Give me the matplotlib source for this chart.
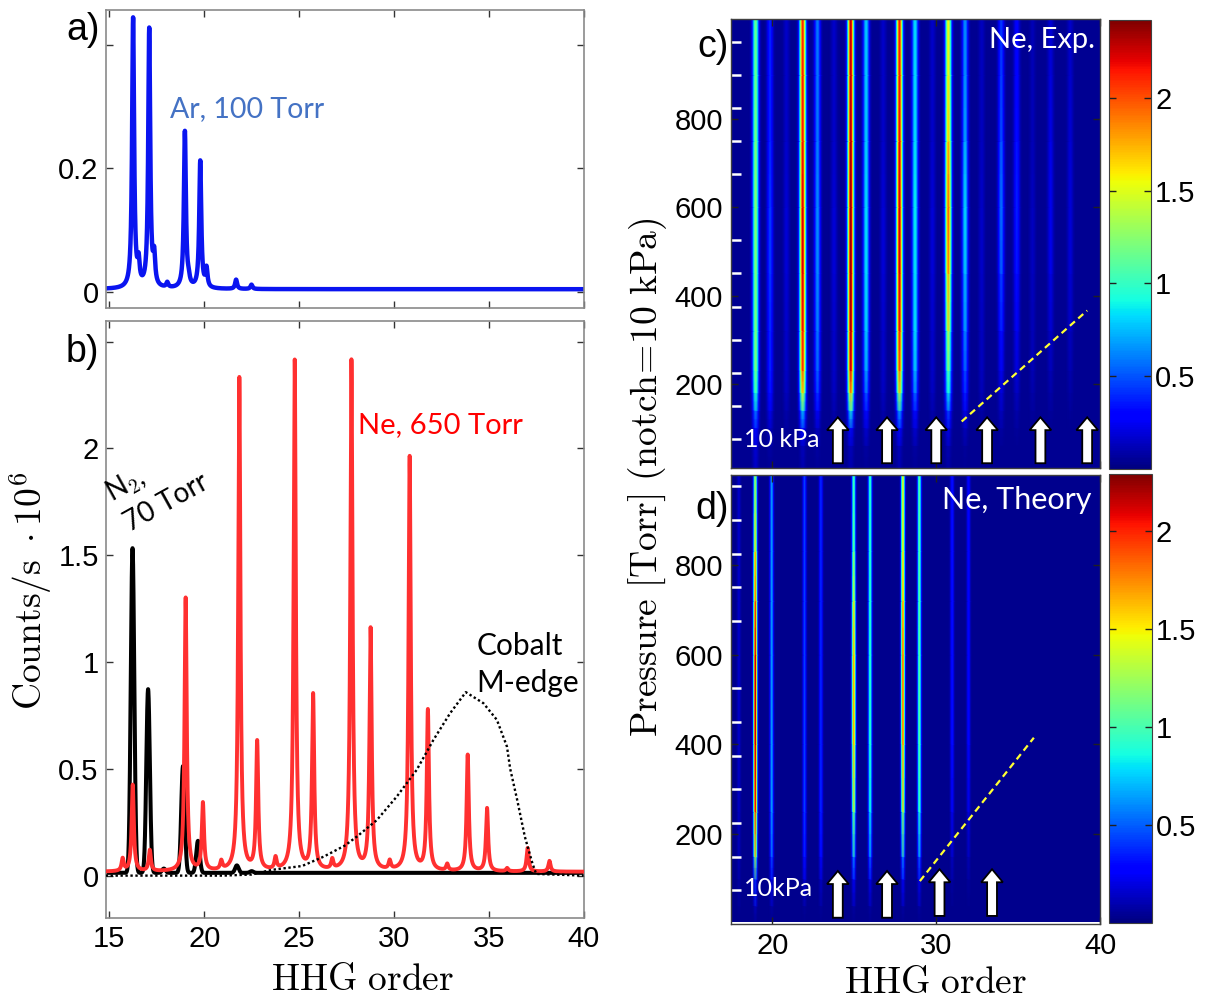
import numpy as np
import matplotlib
matplotlib.use("Agg")
import matplotlib.pyplot as plt
from matplotlib.ticker import FixedLocator, FixedFormatter

plt.rcParams["font.family"] = ["Liberation Sans", "DejaVu Sans"]
plt.rcParams["mathtext.fontset"] = "cm"

# ---------------------------------------------------------------- spectra
ORDER_LIMITS = (14.8, 40.0)

# Ar, 100 Torr: line centres (HHG order) and amplitudes (counts/s * 1e6)
AR_ORDER = [16.25, 16.54, 17.10, 17.36, 18.05, 18.98, 19.18, 19.79, 20.12, 21.68, 22.49]
AR_PEAK = [0.437, 0.035, 0.419, 0.045, 0.008, 0.254, 0.010, 0.206, 0.030, 0.015, 0.007]
AR_BASE = 0.004

# Ne, 650 Torr
NE_ORDER = [15.70, 16.23, 17.13, 19.02, 19.93, 20.90, 21.85, 22.79, 23.76, 24.77,
            25.74, 26.75, 27.76, 28.77, 29.78, 30.83, 31.79, 32.81, 33.89, 34.91,
            35.97, 37.05, 38.20]
NE_PEAK = [0.058, 0.405, 0.098, 1.28, 0.315, 0.040, 2.31, 0.600, 0.055, 2.39,
           0.820, 0.045, 2.39, 1.13, 0.040, 1.94, 0.750, 0.030, 0.545, 0.295,
           0.015, 0.110, 0.050]
NE_BASE = 0.018

# N2, 70 Torr
N2_ORDER = [16.22, 17.04, 17.87, 18.88, 19.67, 21.72, 22.50]
N2_PEAK = [1.52, 0.86, 0.020, 0.50, 0.150, 0.035, 0.008]
N2_BASE = 0.013

# Cobalt M-edge transmission curve
COBALT_ORDER = [14.8, 21.0, 22.5, 23.56, 25.16, 26.3, 27.4, 28.05, 29.1, 30.15,
                31.2, 32.08, 32.96, 33.79, 34.72, 35.43, 35.96, 36.13, 36.5,
                36.9, 37.3, 37.5, 40.0]
COBALT_VALUE = [0.0, 0.0, 0.005, 0.027, 0.045, 0.089, 0.14, 0.183, 0.26, 0.37,
                0.495, 0.635, 0.76, 0.859, 0.807, 0.729, 0.604, 0.50, 0.354,
                0.183, 0.058, 0.008, 0.0]

# ---------------------------------------------------------------- pressure maps
# (c) experiment: harmonic orders, pressure knots [Torr], peak level per knot
EXP_PRESSURE = [8.5, 60, 100, 140, 180, 230, 320, 450, 600, 750, 900, 1026]
EXP_ORDERS = [19.02, 19.90, 20.90, 21.89, 22.79, 23.80, 24.82, 25.76, 26.80, 27.79,
              28.74, 29.80, 30.77, 31.79, 32.80, 33.99, 34.94, 35.90, 37.00, 38.20]
EXP_LEVELS = [
    [0.10, 0.15, 0.30, 0.60, 0.95, 1.15, 1.15, 1.15, 1.20, 1.15, 1.10, 1.10],
    [0.00, 0.05, 0.10, 0.20, 0.30, 0.35, 0.35, 0.40, 0.40, 0.35, 0.35, 0.35],
    [0.00, 0.00, 0.03, 0.06, 0.10, 0.12, 0.12, 0.15, 0.15, 0.12, 0.12, 0.12],
    [0.05, 0.10, 0.30, 0.80, 1.50, 2.00, 2.10, 2.20, 2.20, 2.10, 2.10, 2.05],
    [0.00, 0.05, 0.10, 0.25, 0.40, 0.50, 0.55, 0.60, 0.60, 0.55, 0.55, 0.55],
    [0.00, 0.00, 0.03, 0.06, 0.10, 0.12, 0.12, 0.15, 0.15, 0.12, 0.12, 0.12],
    [0.05, 0.10, 0.30, 0.90, 1.70, 2.20, 2.30, 2.35, 2.35, 2.30, 2.25, 2.25],
    [0.00, 0.05, 0.15, 0.30, 0.50, 0.65, 0.75, 0.80, 0.80, 0.75, 0.75, 0.75],
    [0.00, 0.00, 0.03, 0.06, 0.10, 0.12, 0.12, 0.15, 0.15, 0.12, 0.12, 0.12],
    [0.05, 0.10, 0.30, 0.70, 1.40, 1.90, 2.10, 2.20, 2.20, 2.15, 2.10, 2.10],
    [0.00, 0.05, 0.15, 0.30, 0.55, 0.70, 0.80, 0.80, 0.85, 0.80, 0.80, 0.80],
    [0.00, 0.00, 0.03, 0.06, 0.10, 0.12, 0.12, 0.15, 0.15, 0.12, 0.12, 0.12],
    [0.03, 0.08, 0.20, 0.45, 0.85, 1.05, 1.35, 1.75, 1.95, 1.65, 1.50, 1.50],
    [0.00, 0.03, 0.10, 0.20, 0.35, 0.45, 0.60, 0.70, 0.80, 0.65, 0.60, 0.60],
    [0.00, 0.00, 0.02, 0.05, 0.08, 0.10, 0.10, 0.12, 0.12, 0.10, 0.10, 0.10],
    [0.00, 0.00, 0.05, 0.10, 0.15, 0.20, 0.30, 0.45, 0.55, 0.45, 0.40, 0.40],
    [0.00, 0.00, 0.03, 0.06, 0.10, 0.15, 0.20, 0.30, 0.35, 0.30, 0.25, 0.25],
    [0.00, 0.00, 0.00, 0.03, 0.05, 0.08, 0.08, 0.10, 0.10, 0.08, 0.08, 0.08],
    [0.00, 0.00, 0.00, 0.03, 0.05, 0.08, 0.12, 0.18, 0.20, 0.18, 0.15, 0.15],
    [0.00, 0.00, 0.00, 0.02, 0.04, 0.06, 0.10, 0.14, 0.15, 0.14, 0.12, 0.12],
]
EXP_FLOOR = 0.04
EXP_VMAX = 2.42

# (d) theory
THEORY_PRESSURE = [6, 40, 100, 150, 250, 400, 600, 720, 830, 1000]
THEORY_ORDERS = [18.0, 19.0, 20.0, 22.0, 23.0, 25.0, 26.0, 28.0, 29.0, 31.0, 32.0]
THEORY_LEVELS = [
    [0.00, 0.02, 0.05, 0.08, 0.10, 0.12, 0.12, 0.12, 0.12, 0.12],
    [0.00, 0.10, 0.40, 1.30, 2.00, 2.15, 2.15, 1.85, 1.55, 1.05],
    [0.00, 0.05, 0.20, 0.45, 0.60, 0.60, 0.60, 0.60, 0.60, 0.60],
    [0.00, 0.03, 0.15, 0.30, 0.40, 0.40, 0.40, 0.40, 0.40, 0.40],
    [0.00, 0.03, 0.12, 0.25, 0.35, 0.35, 0.35, 0.35, 0.35, 0.35],
    [0.00, 0.05, 0.25, 0.60, 1.15, 1.65, 1.65, 1.35, 1.05, 0.90],
    [0.00, 0.05, 0.20, 0.50, 0.80, 0.90, 0.90, 0.90, 0.90, 0.90],
    [0.00, 0.05, 0.25, 0.60, 1.25, 1.75, 1.85, 1.65, 1.45, 1.35],
    [0.00, 0.05, 0.20, 0.50, 0.90, 1.00, 1.00, 1.00, 1.00, 1.00],
    [0.00, 0.00, 0.05, 0.10, 0.20, 0.30, 0.30, 0.30, 0.30, 0.30],
    [0.00, 0.00, 0.04, 0.08, 0.16, 0.25, 0.25, 0.25, 0.25, 0.25],
]
THEORY_FLOOR = 0.03
THEORY_VMAX = 2.29

# arrows marking orders, and phase-matching guide lines
EXP_ARROWS = [24, 27, 30, 33.1, 36.35, 39.2]
THEORY_ARROWS = [24, 27, 30.2, 33.4]
EXP_GUIDE = ([31.55, 39.2], [114.6, 366.0])
THEORY_GUIDE = ([29.0, 35.95], [95.6, 415.0])

NOTCH_TORR = 75  # 10 kPa
PRESSURE_TICKS = [200, 400, 600, 800]
CBAR_TICKS = [0.5, 1, 1.5, 2]

# ---------------------------------------------------------------- figure
W, H = 1207, 1001
fig = plt.figure(figsize=(W / 100, H / 100), dpi=100)
TEXT_FONT = ["Lato", "DejaVu Sans"]
TICK_SIZE = 21


def add_axes_px(left, top, right, bottom):
    return fig.add_axes([left / W, 1 - bottom / H, (right - left) / W, (bottom - top) / H])


def lorentz_lines(x, centers, amps, hwhm, base):
    y = np.full_like(x, base)
    for c, a in zip(centers, amps):
        y += a * hwhm ** 2 / ((x - c) ** 2 + hwhm ** 2)
    return y


def gauss_lines(x, centers, amps, sigma, base):
    y = np.full_like(x, base)
    for c, a in zip(centers, amps):
        y += a * np.exp(-0.5 * ((x - c) / sigma) ** 2)
    return y


def style_spectrum(ax, yticks, ylabels, show_x):
    for s in ax.spines.values():
        s.set_color("#8a8a8a")
        s.set_linewidth(1.2)
    ax.set_xlim(*ORDER_LIMITS)
    ax.xaxis.set_major_locator(FixedLocator([15, 20, 25, 30, 35, 40]))
    ax.yaxis.set_major_locator(FixedLocator(yticks))
    ax.yaxis.set_major_formatter(FixedFormatter(ylabels))
    ax.tick_params(direction="in", length=5, width=1, color="#333333",
                   top=True, right=True, labelsize=TICK_SIZE, pad=5,
                   labelbottom=show_x)


x = np.linspace(ORDER_LIMITS[0], ORDER_LIMITS[1], 5041)

# (a) Argon
ax_a = add_axes_px(105.6, 10, 583.6, 308.3)
ax_a.plot(x, lorentz_lines(x, AR_ORDER, AR_PEAK, 0.062, AR_BASE), color="#0a14f0", lw=3.2,
          solid_joinstyle="round")
ax_a.set_ylim(-0.027, 0.457)
style_spectrum(ax_a, [0, 0.2, 0.4], ["0", "0.2", ""], False)
ax_a.text(18.21, 0.2836, "Ar, 100 Torr", color="#4472c4", fontsize=20.5, family=TEXT_FONT)

# (b) Neon, N2 and Cobalt edge
ax_b = add_axes_px(105.6, 320.7, 583.6, 917.7)
ax_b.plot(x, gauss_lines(x, N2_ORDER, N2_PEAK, 0.092, N2_BASE), color="black", lw=2.9, zorder=2)
ax_b.plot(x, lorentz_lines(x, NE_ORDER, NE_PEAK, 0.068, NE_BASE), color="#ff3030", lw=2.8,
          zorder=3)
ax_b.plot(COBALT_ORDER, COBALT_VALUE, color="black", lw=1.7, ls=(0, (1, 1.1)), zorder=4)
ax_b.set_ylim(-0.197, 2.598)
style_spectrum(ax_b, [0, 0.5, 1, 1.5, 2, 2.5], ["0", "0.5", "1", "1.5", "2", ""], True)
ax_b.text(28.1, 2.07, "Ne, 650 Torr", color="#ff0000", fontsize=21, family=TEXT_FONT)
ax_b.text(15.1, 1.75, "N$_2$,", color="black", fontsize=20, family=TEXT_FONT,
          rotation=29, rotation_mode="anchor")
ax_b.text(16.1, 1.61, "70 Torr", color="black", fontsize=20, family=TEXT_FONT,
          rotation=29, rotation_mode="anchor")
ax_b.text(34.36, 1.033, "Cobalt", color="black", fontsize=21.5, family=TEXT_FONT)
ax_b.text(34.36, 0.861, "M-edge", color="black", fontsize=21.5, family=TEXT_FONT)

fig.text(99.5 / W, 1 - 30 / H, "a)", ha="right", va="center", fontsize=27)
fig.text(99.5 / W, 1 - 352 / H, "b)", ha="right", va="center", fontsize=27)
fig.text(362.6 / W, 1 - 990 / H, r"$\mathrm{HHG\ order}$", ha="center", va="baseline",
         fontsize=27)
fig.text(42 / W, 1 - 591 / H, r"$\mathrm{Counts/s}\ \cdot 10^6$", ha="center",
         va="baseline", rotation=90, rotation_mode="anchor", fontsize=27)

# (c), (d) pressure scans
xm = np.arange(17.5, 40.0001, 0.02)


def stripe_map(pressures, orders, levels, width, floor):
    C = np.full((len(pressures), len(xm)), floor)
    for order, lev in zip(orders, levels):
        C += np.outer(lev, np.exp(-0.5 * ((xm - order) / width) ** 2))
    return C


def style_map(ax, ylim, show_x):
    ax.set_xlim(17.5, 40)
    ax.set_ylim(*ylim)
    for s in ax.spines.values():
        s.set_color("#404040")
        s.set_linewidth(1.0)
    ax.xaxis.set_major_locator(FixedLocator([20, 30, 40]))
    ax.yaxis.set_major_locator(FixedLocator(PRESSURE_TICKS))
    ax.yaxis.set_minor_locator(FixedLocator(list(range(NOTCH_TORR, 1000, NOTCH_TORR))))
    ax.tick_params(which="major", direction="in", length=5, width=1, color="#202020",
                   top=True, right=True, labelsize=TICK_SIZE, pad=6, labelbottom=show_x)
    ax.tick_params(which="minor", direction="in", length=7, width=1.8, color="white",
                   left=True, right=False, bottom=False, top=False)


def style_cbar(cb):
    cb.outline.set_edgecolor("#404040")
    cax = cb.ax
    cax.yaxis.set_major_locator(FixedLocator(CBAR_TICKS))
    cax.yaxis.set_major_formatter(FixedFormatter(["0.5", "1", "1.5", "2"]))
    cax.tick_params(direction="in", length=5, width=1, color="#202020", labelsize=TICK_SIZE,
                    pad=3, left=True, right=True)


def draw_arrows(ax, orders, tail, tip):
    for o in orders:
        ax.arrow(o, tail, 0, tip - tail, width=0.6, head_width=1.32, head_length=29,
                 length_includes_head=True, fc="white", ec="black", lw=1.3, zorder=5)


ax_c = add_axes_px(731.2, 19.3, 1100.3, 468.3)
Xc, Yc = np.meshgrid(xm, EXP_PRESSURE)
mc = ax_c.pcolormesh(Xc, Yc, stripe_map(EXP_PRESSURE, EXP_ORDERS, EXP_LEVELS, 0.13, EXP_FLOOR),
                     cmap="jet", vmin=0, vmax=EXP_VMAX, shading="gouraud", rasterized=True)
style_map(ax_c, (8.5, 1026), False)
ax_c.plot(*EXP_GUIDE, color="#ffff33", lw=1.6, ls=(0, (3, 2)), zorder=4)
draw_arrows(ax_c, EXP_ARROWS, 20, 124)
ax_c.text(0.035, 74, "10 kPa", transform=ax_c.get_yaxis_transform(), color="white",
          fontsize=18, family=TEXT_FONT, va="center", ha="left")
ax_c.text(0.985, 0.955, "Ne, Exp.", transform=ax_c.transAxes, color="white", fontsize=21,
          family=TEXT_FONT, ha="right", va="center")

cax_c = add_axes_px(1108.6, 20, 1150.9, 469)
style_cbar(fig.colorbar(mc, cax=cax_c))

ax_d = add_axes_px(731.2, 475.1, 1100.3, 924.0)
Xd, Yd = np.meshgrid(xm, THEORY_PRESSURE)
md = ax_d.pcolormesh(Xd, Yd, stripe_map(THEORY_PRESSURE, THEORY_ORDERS, THEORY_LEVELS, 0.08,
                                         THEORY_FLOOR),
                     cmap="jet", vmin=0, vmax=THEORY_VMAX, shading="gouraud", rasterized=True)
style_map(ax_d, (0, 1000), True)
ax_d.plot(*THEORY_GUIDE, color="#ffff33", lw=1.6, ls=(0, (3, 2)), zorder=4)
draw_arrows(ax_d, THEORY_ARROWS[:2], 14, 118)
draw_arrows(ax_d, THEORY_ARROWS[2:], 18, 122)
ax_d.text(0.035, 79, "10kPa", transform=ax_d.get_yaxis_transform(), color="white",
          fontsize=18, family=TEXT_FONT, va="center", ha="left")
ax_d.text(0.975, 0.945, "Ne, Theory", transform=ax_d.transAxes, color="white", fontsize=22,
          family=TEXT_FONT, ha="right", va="center")

cax_d = add_axes_px(1109.3, 474.1, 1151.6, 922.8)
style_cbar(fig.colorbar(md, cax=cax_d))

fig.text(728.6 / W, 1 - 47 / H, "c)", ha="right", va="center", fontsize=27)
fig.text(728.6 / W, 1 - 509 / H, "d)", ha="right", va="center", fontsize=27)
fig.text(935.4 / W, 1 - 993 / H, r"$\mathrm{HHG\ order}$", ha="center", va="baseline",
         fontsize=27)
fig.text(657 / W, 1 - 477 / H, r"$\mathrm{Pressure\ [Torr]\ (notch\!=\!10\ kPa)}$",
         ha="center", va="baseline", rotation=90, rotation_mode="anchor", fontsize=27)

fig.savefig("out.png", dpi=100)
